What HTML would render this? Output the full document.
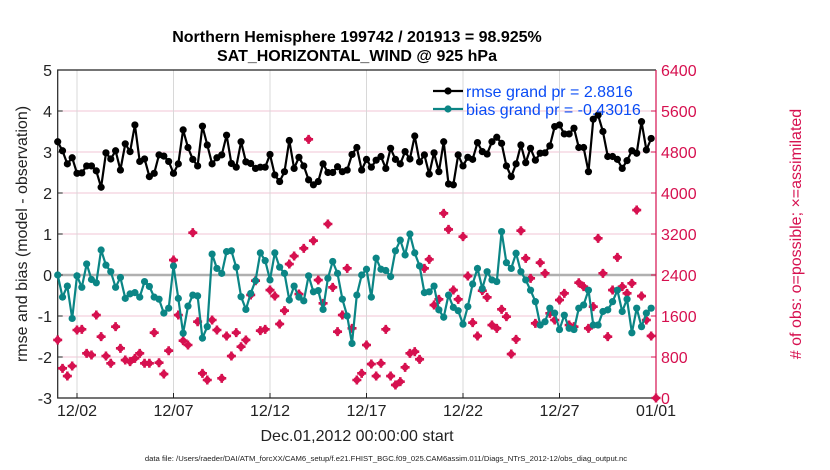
<!DOCTYPE html>
<html><head><meta charset="utf-8"><style>
html,body{margin:0;padding:0;background:#fff;}
svg{display:block;font-family:"Liberation Sans",Arial,sans-serif;}
</style></head><body>
<svg id="chart" width="830" height="470" viewBox="0 0 830 470" xmlns="http://www.w3.org/2000/svg">
<text x="357" y="42" text-anchor="middle" font-size="16" font-weight="bold">Northern Hemisphere 199742 / 201913 = 98.925%</text>
<text x="357" y="61" text-anchor="middle" font-size="16" font-weight="bold">SAT_HORIZONTAL_WIND @ 925 hPa</text>
<g id="grid"></g>
<g id="axes"></g>
<g id="marks"></g>
<g id="legend"></g>
<text transform="translate(27,234) rotate(-90)" text-anchor="middle" font-size="16" fill="#222">rmse and bias (model - observation)</text>
<text transform="translate(801,234) rotate(-90)" text-anchor="middle" font-size="16" fill="#d6104f"># of obs: o=possible; ×=assimilated</text>
<text x="357" y="441" text-anchor="middle" font-size="16" fill="#222">Dec.01,2012 00:00:00 start</text>
<text x="386" y="461" text-anchor="middle" font-size="7.7" fill="#222">data file: /Users/raeder/DAI/ATM_forcXX/CAM6_setup/f.e21.FHIST_BGC.f09_025.CAM6assim.011/Diags_NTrS_2012-12/obs_diag_output.nc</text>
</svg>
<script>
const leftTicks=[5,4,3,2,1,0,-1,-2,-3];
const rightTicks=[6400,5600,4800,4000,3200,2400,1600,800,0];
const xTickDays=[1,6,11,16,21,26,31];
const xTickLabels=["12/02","12/07","12/12","12/17","12/22","12/27","01/01"];
const rmse=[3.25,3.03,2.71,2.86,2.48,2.49,2.66,2.66,2.54,2.14,2.98,2.83,3.03,2.56,3.20,3.01,3.66,2.77,2.83,2.40,2.48,2.93,2.90,2.77,2.48,2.71,3.54,3.11,2.82,2.66,3.63,3.17,
2.71,2.86,2.93,3.41,2.72,2.63,3.25,2.76,2.72,2.60,2.63,2.63,2.94,2.44,2.28,2.52,3.28,2.60,2.87,2.66,2.32,2.20,2.28,2.71,2.50,2.50,2.64,2.52,2.56,2.94,3.11,
2.56,2.82,2.63,2.80,2.89,2.60,3.09,2.82,2.71,3.01,2.83,3.39,2.76,2.93,2.46,2.98,2.52,3.25,2.22,2.20,2.93,2.66,2.87,2.82,3.23,3.01,2.95,3.25,3.36,3.21,2.66,
2.40,2.71,3.17,2.74,3.09,2.80,2.97,2.98,3.15,3.62,3.66,3.44,3.44,3.58,3.11,3.11,2.52,3.80,3.90,3.50,2.89,2.89,2.82,2.60,2.79,3.03,2.97,3.74,3.05,3.33];
const bias=[0,-0.54,-0.27,-1.06,-0.02,-0.30,0.27,-0.11,-0.19,0.61,0.24,0.08,-0.30,-0.06,-0.57,-0.46,-0.43,-0.54,-0.16,-0.28,-0.54,-0.59,-0.93,-0.81,0.22,-0.57,-1.42,-0.76,-0.49,-0.51,-1.54,-1.26,
0.51,0.16,0.04,0.57,0.59,0.19,-0.53,-0.84,-0.45,-0.14,0.54,0.35,-0.12,0.54,0.19,0.04,-0.61,-0.27,-0.54,-0.63,-0.02,-0.41,-0.38,-0.84,-0.08,0.33,0.04,-0.59,-1.0,-1.67,-0.49,
0,0.14,-0.54,0.41,0.14,0.11,-0.04,0.59,0.85,0.49,1.0,0.54,0.22,-0.43,-0.41,-0.27,-0.85,-1.03,-0.49,-0.79,-0.87,-1.20,-0.77,-0.22,0.16,-0.33,0.08,-0.12,-0.16,1.06,0.30,
0.16,0.53,0.08,-0.12,-0.37,-0.65,-1.22,-1.14,-0.81,-0.93,-1.33,-0.98,-1.30,-1.33,-0.81,-0.73,-0.37,-1.22,-1.22,-0.89,-0.85,-0.65,-0.37,-0.89,-0.59,-1.41,-0.81,-1.26,-0.93,-0.81];
const obsCount=[1132,579,429,624,1327,1340,871,839,1619,1197,819,677,1392,969,741,709,774,871,677,677,1275,689,468,923,2692,1619,1119,1034,3226,1489,481,351,
1522,1327,384,1210,819,1275,1001,1132,2010,2289,1314,1340,2107,1990,1444,1704,2614,2770,2029,2920,5047,3069,2302,1847,3395,2159,1294,1619,2530,1359,351,
481,1034,663,429,677,1340,429,254,319,598,871,904,754,2530,2705,1814,1925,3603,3290,2107,1925,3148,2380,1470,1210,2094,1964,1424,1359,1730,1587,
858,1145,3264,2725,2335,1457,2640,2432,1652,1522,1912,2042,1424,1392,2250,2172,1359,1782,3115,2432,1197,2107,2744,2172,2042,2237,3668,1990,1522,1210,0];

const NS="http://www.w3.org/2000/svg";
const X0=57.7,X1=656,Y0=70,Y1=398;
function xDay(d){return X0+(X1-X0)*d/31;}
function xIdx(i){return xDay(i*0.25);}
function yL(v){return Y1-(v+3)/8*(Y1-Y0);}
function yR(c){return Y1-c/6400*(Y1-Y0);}
function mk(tag,attrs,parent){const e=document.createElementNS(NS,tag);for(const k in attrs)e.setAttribute(k,attrs[k]);parent.appendChild(e);return e;}
const grid=document.getElementById('grid'),axes=document.getElementById('axes'),marks=document.getElementById('marks'),legend=document.getElementById('legend');

leftTicks.forEach(v=>{
  const y=yL(v);
  if(v!==5&&v!==-3){const g=mk('line',{x1:X0,x2:X1,y1:y,y2:y,stroke:'#f2c6d6','stroke-width':1},grid);
  
  }
  const t=mk('text',{x:52,y:y+6,'text-anchor':'end','font-size':16,fill:'#222'},axes);t.textContent=v;
  
  
  mk('line',{x1:X0,x2:X0+5,y1:y,y2:y,stroke:'#222'},axes);
});
rightTicks.forEach(c=>{
  const y=yR(c);
  const t=mk('text',{x:661,y:y+6,'font-size':16,fill:'#d6104f'},axes);t.textContent=c;
  
  
  mk('line',{x1:X1-5,x2:X1,y1:y,y2:y,stroke:'#d6104f'},axes);
});
xTickDays.forEach((d,i)=>{
  const x=xDay(d);
  if(d<31){const g=mk('line',{x1:x,x2:x,y1:Y0,y2:Y1,stroke:'#d8d8d8','stroke-width':1},grid);
  
  }
  mk('line',{x1:x,x2:x,y1:Y1,y2:Y1-5,stroke:'#222'},axes);
  const t=mk('text',{x:x,y:416,'text-anchor':'middle','font-size':16,fill:'#222'},axes);t.textContent=xTickLabels[i];
  
  
});
const zl=mk('line',{x1:X0,x2:X1,y1:yL(0),y2:yL(0),stroke:'#b0b0b0','stroke-width':2.5},grid);


const fr=mk('path',{d:`M${X1},${Y0}H${X0}V${Y1}H${X1}`,fill:'none',stroke:'#222','stroke-width':1.2},axes);


const ra=mk('line',{x1:X1,x2:X1,y1:Y0,y2:Y1,stroke:'#d6104f','stroke-width':1.2},axes);



obsCount.forEach((c,i)=>{
  const x=xIdx(i),y=yR(c);
  const s=mk('g',{transform:`translate(${x},${y})`},marks);
  
  
  mk('circle',{r:3.3,fill:'#d6104f'},s);
  mk('path',{d:'M-4.5,0H4.5M0,-4.5V4.5',stroke:'#d6104f','stroke-width':2.6},s);
});
function series(arr,color,name){
  const pts=arr.map((v,i)=>xIdx(i).toFixed(1)+','+yL(v).toFixed(1)).join(' ');
  const pl=mk('polyline',{points:pts,fill:'none',stroke:color,'stroke-width':2.2},marks);
  
  
  arr.forEach((v,i)=>{
    const c=mk('circle',{cx:xIdx(i),cy:yL(v),r:3.6,fill:color},marks);
    
    
  });
}
series(bias,'#0b8585','bias');
series(rmse,'#000','rmse');

[['rmse grand pr = 2.8816','#000',91],['bias grand pr = -0.43016','#0b8585',109]].forEach((r,i)=>{
  const g=mk('g',{},legend);
  
  
  mk('line',{x1:433,x2:463,y1:r[2],y2:r[2],stroke:r[1],'stroke-width':2.2},g);
  mk('circle',{cx:448,cy:r[2],r:3.6,fill:r[1]},g);
  const t=mk('text',{x:466,y:r[2]+6,'font-size':16,fill:'#0a4cf5'},g);t.textContent=r[0];
});
</script>
</body></html>
